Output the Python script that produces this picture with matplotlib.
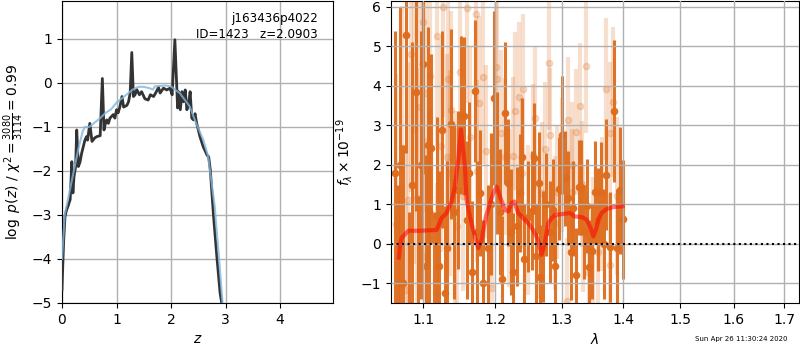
import numpy as np
import matplotlib
matplotlib.use("Agg")
import matplotlib.pyplot as plt
from matplotlib.ticker import FixedLocator, FuncFormatter, NullLocator

# ---------------- left panel data: log p(z) ----------------
z_pz = [0.0, 0.01, 0.03, 0.055, 0.08, 0.11, 0.15, 0.18, 0.20, 0.22, 0.25, 0.27, 0.30, 0.33,
        0.36, 0.39, 0.42, 0.45, 0.47, 0.51, 0.55, 0.60, 0.64, 0.70, 0.74, 0.77, 0.80, 0.82,
        0.85, 0.88, 0.94, 0.97, 1.00, 1.03, 1.06, 1.10, 1.13, 1.19, 1.22, 1.25, 1.28, 1.31,
        1.34, 1.37, 1.42, 1.46, 1.52, 1.58, 1.62, 1.68, 1.73, 1.77, 1.80, 1.86, 1.92, 1.98,
        2.02, 2.07, 2.12, 2.14, 2.17, 2.20, 2.23, 2.26, 2.29, 2.32, 2.35, 2.38, 2.41, 2.44,
        2.47, 2.53, 2.59, 2.66, 2.69, 2.72, 2.78, 2.84, 2.90, 2.95, 3.00, 3.10]
logpz = [-4.7, -4.3, -3.6, -3.04, -2.9, -2.8, -2.65, -1.79, -2.5, -2.13, -1.9, -1.07, -1.9, -1.8,
         -1.6, -1.45, -1.3, -1.22, -1.3, -0.92, -1.33, -1.25, -1.22, -1.2, 0.1, -1.07, -0.9, -0.84,
         -0.92, -0.8, -0.72, -0.8, -0.61, -0.68, -0.55, -0.31, -0.55, -0.51, -0.43, -0.23, 0.69, -0.31,
         -0.27, -0.15, -0.27, -0.2, -0.36, -0.39, -0.27, -0.31, -0.2, -0.1, -0.23, -0.12, -0.16, -0.12,
         -0.27, 0.98, -0.57, -0.2, -0.61, -0.2, -0.43, -0.16, -0.61, -0.5, -0.2, -0.8, -0.84, -0.7,
         -0.92, -1.22, -1.45, -1.64, -1.68, -1.98, -3.04, -3.95, -4.78, -5.16, -5.9, -7.0]

z_smooth = [0.0, 0.05, 0.10, 0.20, 0.30, 0.38, 0.42, 0.50, 0.60, 0.70, 0.80, 0.90, 1.00,
            1.10, 1.20, 1.30, 1.40, 1.50, 1.60, 1.67, 1.70, 1.80, 1.90, 2.00, 2.10, 2.16,
            2.20, 2.34, 2.47, 2.59, 2.68, 2.80, 2.90, 2.95, 3.00, 3.10]
logpz_smooth = [-4.0, -3.0, -2.7, -2.1, -1.5, -1.1, -1.0, -1.0, -0.9, -0.8, -0.68, -0.6, -0.45,
                -0.35, -0.25, -0.15, -0.09, -0.09, -0.12, -0.15, -0.08, -0.07, -0.06, -0.08, -0.18, -0.23,
                -0.3, -0.53, -0.95, -1.29, -1.67, -2.8, -4.3, -5.1, -5.8, -7.0]

# ---------------- right panel data: spectrum ----------------
dark_wave = [1.0625, 1.0665, 1.0700, 1.0740, 1.0773, 1.0815, 1.0850, 1.0899, 1.0935, 1.0970,
             1.1001, 1.1032, 1.1060, 1.1081, 1.1099, 1.1140, 1.1179, 1.1215, 1.1247, 1.1292,
             1.1324, 1.1374, 1.1420, 1.1474, 1.1516, 1.1558, 1.1595, 1.1627, 1.1669, 1.1707,
             1.1740, 1.1777, 1.1825, 1.1887, 1.1935, 1.1978, 1.2026, 1.2060, 1.2099, 1.2143,
             1.2187, 1.2225, 1.2261, 1.2310, 1.2359, 1.2390, 1.2424, 1.2483, 1.2549, 1.2569,
             1.2610, 1.2645, 1.2665, 1.2711, 1.2760, 1.2820, 1.2865, 1.2891, 1.2950, 1.3012,
             1.3059, 1.3101, 1.3143, 1.3180, 1.3222, 1.3275, 1.3313, 1.3360, 1.3403, 1.3440,
             1.3484, 1.3540, 1.3583, 1.3626, 1.3680, 1.3720, 1.3775, 1.3847, 1.3897, 1.3942,
             1.3998]
dark_flux = [1.8, -2.0, 2.0, -1.0, 5.29, -2.2, 1.5, 3.84, -1.8, 2.0,
             4.56, -0.56, 2.5, 0.82, 2.42, -1.8, 0.71, -0.56, 2.89, -1.25,
             -0.11, 3.04, 0.8, 1.37, 3.27, 3.24, 0.6, 1.79, -0.72, 3.87,
             0.3, 1.28, -1.0, -0.11, 1.0, 3.69, 2.04, 0.8, -0.89, 3.31,
             1.55, 0.3, -0.71, 0.44, 1.28, 2.2, -0.39, 0.69, 0.84, 2.17,
             -0.3, 1.54, -0.83, -0.07, 1.0, 0.3, 0.86, -0.56, 1.4, 2.76,
             1.66, 1.16, -0.22, 0.9, -0.79, 1.43, 1.43, 0.3, 0.96, -0.6,
             -0.19, 1.3, 0.61, 1.28, 0.0, 1.75, -0.08, 3.37, -0.1, 1.35,
             0.62]
dark_err = [3.6, 3.5, 4.0, 3.5, 3.0, 3.0, 3.6, 3.0, 3.0, 3.4,
            2.8, 2.8, 3.0, 2.6, 2.4, 2.6, 2.5, 2.4, 2.5, 2.2,
            2.2, 2.4, 2.2, 2.0, 2.0, 2.0, 2.0, 1.8, 1.8, 1.8,
            1.8, 1.6, 1.6, 1.6, 1.8, 2.2, 1.8, 1.6, 1.6, 1.8,
            1.6, 1.6, 1.5, 1.5, 1.5, 1.5, 1.4, 1.4, 1.5, 1.4,
            1.3, 1.3, 1.3, 1.4, 1.3, 1.3, 1.3, 1.3, 1.3, 1.5,
            1.2, 1.2, 1.2, 1.2, 1.2, 1.2, 1.2, 1.2, 1.2, 1.2,
            1.2, 1.3, 1.3, 1.3, 1.4, 1.4, 1.4, 1.8, 1.5, 1.6,
            1.5]

light_wave = [1.0640, 1.0726, 1.0777, 1.0803, 1.0840, 1.0882, 1.0913, 1.0957, 1.1001, 1.1018,
              1.1032, 1.1089, 1.1179, 1.1189, 1.1233, 1.1260, 1.1314, 1.1328, 1.1360, 1.1374,
              1.1429, 1.1452, 1.1498, 1.1540, 1.1591, 1.1640, 1.1717, 1.1731, 1.1769, 1.1816,
              1.1864, 1.1945, 1.2003, 1.2018, 1.2076, 1.2139, 1.2200, 1.2251, 1.2286, 1.2350,
              1.2385, 1.2410, 1.2480, 1.2550, 1.2585, 1.2640, 1.2687, 1.2748, 1.2800, 1.2820,
              1.2893, 1.2919, 1.3000, 1.3076, 1.3092, 1.3155, 1.3166, 1.3219, 1.3288, 1.3325,
              1.3341, 1.3384, 1.3438, 1.3503, 1.3584, 1.3650, 1.3721, 1.3776, 1.3787, 1.3831,
              1.3900]
light_flux = [0.5, 2.42, -1.16, 1.11, 4.8, 2.9, 1.16, 3.46, 5.63, -0.32,
              3.81, 4.24, 5.27, -1.25, 2.48, 6.0, 2.21, 4.18, 1.79, 3.39,
              0.86, 0.44, 4.36, 1.2, 5.97, 2.7, 5.82, 1.84, 3.56, 4.22,
              2.34, -1.12, 4.49, 4.17, 2.8, 2.21, 0.9, 2.23, 3.37, 3.71,
              1.79, 3.92, 0.6, 2.25, 3.18, 0.4, 1.28, 2.41, 4.57, 2.76,
              0.52, 1.32, 2.0, -1.46, 3.14, 1.32, 2.0, 2.83, 3.48, 1.52,
              0.37, 4.51, -0.74, 0.1, -0.22, 1.0, 3.92, -0.53, 2.8, 3.59,
              1.2]
light_err = [3.8, 3.6, 3.5, 3.5, 3.5, 3.4, 3.3, 3.2, 3.2, 3.0,
             3.0, 3.0, 2.8, 2.8, 2.7, 2.8, 2.6, 2.6, 2.6, 2.5,
             2.5, 2.5, 2.4, 2.4, 2.4, 2.3, 2.3, 2.3, 2.2, 2.2,
             2.2, 2.1, 2.1, 2.1, 2.1, 2.0, 2.0, 2.0, 2.0, 1.9,
             1.9, 1.9, 1.9, 1.8, 1.8, 1.8, 1.8, 1.7, 1.7, 1.7,
             1.7, 1.7, 1.7, 1.6, 1.6, 1.6, 1.6, 1.6, 1.6, 1.6,
             1.6, 1.7, 1.6, 1.6, 1.7, 1.7, 1.8, 1.8, 1.8, 1.9,
             2.0]

model_wave = [1.0680, 1.0695, 1.0717, 1.0803, 1.0956, 1.1179, 1.1246, 1.1314, 1.1382, 1.1428,
              1.1474, 1.1512, 1.1530, 1.1567, 1.1590, 1.1637, 1.1707, 1.1754, 1.1802, 1.1864,
              1.1969, 1.2018, 1.2066, 1.2139, 1.2188, 1.2237, 1.2276, 1.2335, 1.2410, 1.2485,
              1.2560, 1.2636, 1.2687, 1.2738, 1.2790, 1.2841, 1.2893, 1.2997, 1.3129, 1.3209,
              1.3316, 1.3397, 1.3462, 1.3505, 1.3548, 1.3587, 1.3641, 1.3723, 1.3834, 1.3991]
model_flux = [-0.35, -0.05, 0.15, 0.33, 0.33, 0.35, 0.65, 0.78, 1.07, 1.45,
              2.13, 2.89, 2.6, 1.96, 1.12, 0.69, 0.19, -0.11, 0.1, 0.69,
              1.28, 1.45, 1.2, 0.86, 0.82, 1.03, 1.07, 0.78, 0.65, 0.52,
              0.35, 0.1, -0.28, 0.02, 0.52, 0.65, 0.73, 0.75, 0.78, 0.69,
              0.68, 0.61, 0.4, 0.19, 0.35, 0.61, 0.78, 0.88, 0.93, 0.95]

root = "j163436p4022"
obj_id = 1423
z_best = 2.0903
chi2_num, chi2_den = 3080, 3114
timestamp = "Sun Apr 26 11:30:24 2020"

x_ticks_left = [0, 1, 2, 3, 4]
y_ticks_left = [-5, -4, -3, -2, -1, 0, 1]
x_ticks_right = [1.1, 1.2, 1.3, 1.4, 1.5, 1.6, 1.7]
y_ticks_right = [-1, 0, 1, 2, 3, 4, 5, 6]

# ---------------- figure ----------------
fig = plt.figure(figsize=(8, 3.5), dpi=100)
ax1 = fig.add_axes([62 / 800, 47 / 350, 271 / 800, 302 / 350])
ax2 = fig.add_axes([391 / 800, 47 / 350, 408 / 800, 302 / 350])

ax1.plot(z_pz, logpz, color='0.2', lw=2.0, zorder=3)
ax1.plot(z_smooth, logpz_smooth, color='#80b6e0', lw=1.5, alpha=0.8, zorder=4)
ax1.set_xlim(0, 4.97)
ax1.set_ylim(-5, 1.86)
ax1.set_xticks(x_ticks_left)
ax1.set_yticks(y_ticks_left)
ax1.grid(True, color='#b0b0b0', lw=1.0)
ax1.set_xlabel('$z$', fontsize=10)
ax1.set_ylabel(r'$\log\ p(z)$ / $\chi^2=\frac{%d}{%d}=%.2f$'
               % (chi2_num, chi2_den, chi2_num / chi2_den), fontsize=10)
ax1.text(0.945, 0.965, root, ha='right', va='top', fontsize=8.6,
         transform=ax1.transAxes)
ax1.text(0.945, 0.91, 'ID=%d   z=%.4f' % (obj_id, z_best), ha='right', va='top',
         fontsize=8.6, transform=ax1.transAxes)

dark_c = '#de6c1c'
ax2.errorbar(light_wave, light_flux, yerr=light_err, fmt='o', color=dark_c,
             ms=4.5, elinewidth=3.0, capsize=0, alpha=0.22, zorder=1)
ax2.errorbar(dark_wave, dark_flux, yerr=dark_err, fmt='o', color=dark_c,
             ms=4.5, elinewidth=2.2, capsize=0, alpha=0.95, zorder=2)
ax2.plot(model_wave, model_flux, color='red', lw=3, alpha=0.55, zorder=4)
ax2.axhline(0, color='k', ls=':', lw=1.5, zorder=5)

ax2.set_xscale('log')
ax2.set_xlim(1.058, 1.731)
ax2.set_ylim(-1.5, 6.15)
ax2.xaxis.set_major_locator(FixedLocator(x_ticks_right))
ax2.xaxis.set_major_formatter(FuncFormatter(lambda v, p: '%.1f' % v))
ax2.xaxis.set_minor_locator(NullLocator())
ax2.set_yticks(y_ticks_right)
ax2.set_axisbelow(False)
ax2.grid(True, color='#b0b0b0', lw=1.0, zorder=3)
ax2.set_xlabel(r'$\lambda$', fontsize=10)
ax2.set_ylabel(r'$f_\lambda \times 10^{-19}$', fontsize=10)

fig.text(0.984, 0.022, timestamp, ha='right', va='bottom', fontsize=5)

fig.savefig('out.png', dpi=100)
